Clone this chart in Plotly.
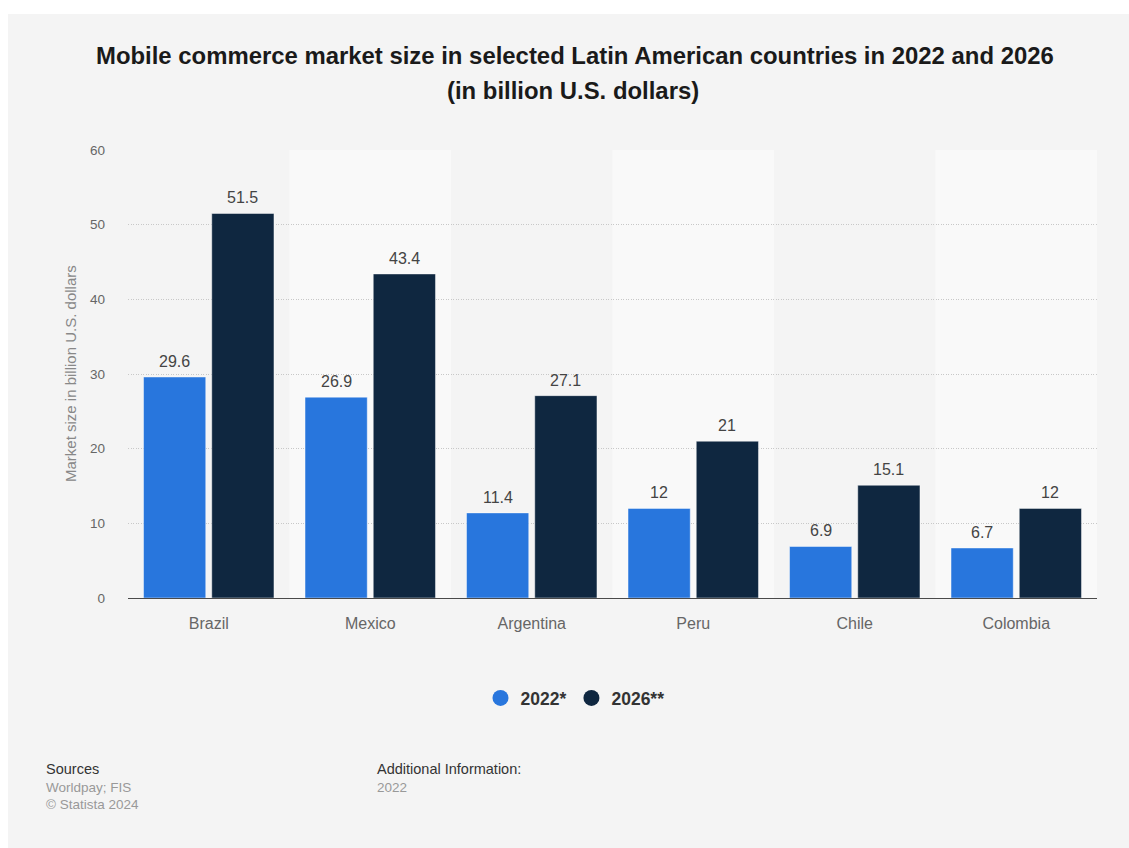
import plotly.graph_objects as go

countries = ["Brazil", "Mexico", "Argentina", "Peru", "Chile", "Colombia"]
values_2022 = [29.6, 26.9, 11.4, 12, 6.9, 6.7]
values_2026 = [51.5, 43.4, 27.1, 21, 15.1, 12]
series_names = ["2022*", "2026**"]
y_ticks = [0, 10, 20, 30, 40, 50, 60]

W, H = 1129, 848
ML, MR, MT, MB = 128, 32, 150, 250
PW, PH = W - ML - MR, H - MT - MB

def px_x(p):
    return (p - ML) / PW

def px_y(p):
    return (H - MB - p) / PH

FONT = "Liberation Sans, Arial, Helvetica, sans-serif"
C1, C2 = "#2876dd", "#0f2740"
BARGAP, GROUPGAP = 0.155, 0.088
slot_px = PW / len(countries) * (1 - BARGAP) / 2

fig = go.Figure()
for vals, name, col in [(values_2022, series_names[0], C1), (values_2026, series_names[1], C2)]:
    fig.add_trace(go.Bar(x=countries, y=vals, name=name,
                         marker=dict(color=col, line=dict(color="rgba(255,255,255,0.45)", width=1)),
                         showlegend=False, hoverinfo="x+y"))
for name, col in zip(series_names, [C1, C2]):
    fig.add_trace(go.Scatter(x=[None], y=[None], mode="markers", name=f"<b>{name}</b>",
                             marker=dict(symbol="circle", size=18, color=col)))

shapes = [dict(type="rect", xref="paper", yref="paper", x0=px_x(8), x1=px_x(W + 5), y0=px_y(H + 5), y1=px_y(14),
               fillcolor="#f4f4f4", line=dict(width=0), layer="below")]
for i in range(1, len(countries), 2):
    shapes.append(dict(type="rect", xref="x", yref="paper", x0=i - 0.5, x1=i + 0.5, y0=0, y1=1,
                       fillcolor="#f9f9f9", line=dict(width=0), layer="below"))

annotations = [
    dict(text="<b>Mobile commerce market size in selected Latin American countries in 2022 and 2026</b>",
         xref="paper", yref="paper", x=px_x(575), y=px_y(55), showarrow=False,
         font=dict(size=23.9, color="#1a1a1a", family=FONT), xanchor="center", yanchor="middle"),
    dict(text="<b>(in billion U.S. dollars)</b>",
         xref="paper", yref="paper", x=px_x(573), y=px_y(90), showarrow=False,
         font=dict(size=23.9, color="#1a1a1a", family=FONT), xanchor="center", yanchor="middle"),
    dict(text="Market size in billion U.S. dollars", xref="paper", yref="paper", x=px_x(70), y=0.5,
         textangle=-90, showarrow=False, font=dict(size=15, color="#888888", family=FONT),
         xanchor="center", yanchor="middle"),
    dict(text="Sources", xref="paper", yref="paper", x=px_x(44), y=px_y(769), showarrow=False,
         font=dict(size=14.5, color="#333333", family=FONT), xanchor="left", yanchor="middle"),
    dict(text="Worldpay; FIS", xref="paper", yref="paper", x=px_x(44), y=px_y(787), showarrow=False,
         font=dict(size=13.5, color="#999999", family=FONT), xanchor="left", yanchor="middle"),
    dict(text="© Statista 2024", xref="paper", yref="paper", x=px_x(44), y=px_y(804), showarrow=False,
         font=dict(size=13.5, color="#999999", family=FONT), xanchor="left", yanchor="middle"),
    dict(text="Additional Information:", xref="paper", yref="paper", x=px_x(375), y=px_y(769), showarrow=False,
         font=dict(size=14.5, color="#333333", family=FONT), xanchor="left", yanchor="middle"),
    dict(text="2022", xref="paper", yref="paper", x=px_x(375), y=px_y(787), showarrow=False,
         font=dict(size=13.5, color="#999999", family=FONT), xanchor="left", yanchor="middle"),
]
# value labels above bars, positioned through the axis scales
for vals, shift in [(values_2022, -slot_px / 2), (values_2026, slot_px / 2)]:
    for c, v in zip(countries, vals):
        annotations.append(dict(text=f"{v:g}", xref="x", yref="y", x=c, y=v, xshift=shift, yshift=5,
                                showarrow=False, xanchor="center", yanchor="bottom",
                                font=dict(size=16, color="#444444", family=FONT)))

fig.update_layout(
    width=W, height=H,
    margin=dict(l=ML, r=MR, t=MT, b=MB, autoexpand=False),
    paper_bgcolor="white", plot_bgcolor="rgba(0,0,0,0)",
    font=dict(family=FONT),
    barmode="group", bargap=BARGAP, bargroupgap=GROUPGAP,
    shapes=shapes, annotations=annotations,
    showlegend=True,
    legend=dict(orientation="h", x=px_x(575), y=px_y(698), xanchor="center", yanchor="middle",
                font=dict(size=17.5, color="#333333", family=FONT), bgcolor="rgba(0,0,0,0)",
                itemwidth=30, traceorder="normal", itemclick=False),
    xaxis=dict(showgrid=False, showline=True, linecolor="#4a4a4a", linewidth=1.2,
               tickfont=dict(size=16, color="#666666"), ticks="", ticklabelstandoff=11, zeroline=False),
    yaxis=dict(range=[0, 60], tickvals=y_ticks, showgrid=True, gridcolor="#c8c8c8", griddash="1px,1.5px",
               gridwidth=1, zeroline=False, showline=False, tickfont=dict(size=13.5, color="#666666"),
               ticklabelstandoff=22),
)

fig.write_html("out.html")
